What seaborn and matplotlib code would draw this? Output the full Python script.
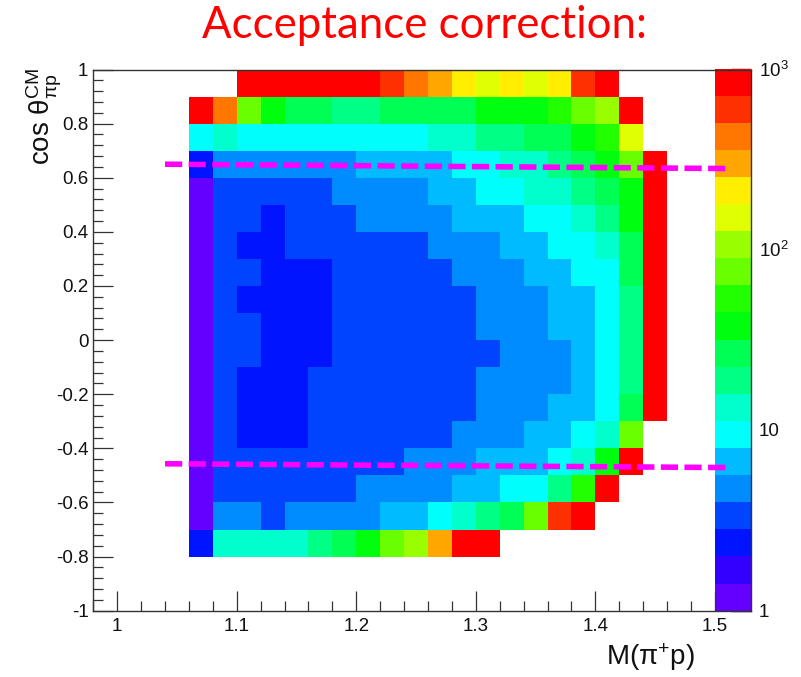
import numpy as np
import pandas as pd
import matplotlib
matplotlib.use("Agg")
import matplotlib.pyplot as plt
import seaborn as sns
from matplotlib.colors import ListedColormap
from matplotlib.ticker import FixedLocator, FuncFormatter

# ---------------- data ----------------
N = None
# lower edges of the M(pi+ p) bins (GeV)
m_bin_low = [1.06, 1.08, 1.10, 1.12, 1.14, 1.16, 1.18, 1.20, 1.22, 1.24,
             1.26, 1.28, 1.30, 1.32, 1.34, 1.36, 1.38, 1.40, 1.42, 1.44]
# lower edges of the cos(theta) bins, top row first
cos_bin_low = [0.9, 0.8, 0.7, 0.6, 0.5, 0.4, 0.3, 0.2, 0.1, 0.0,
               -0.1, -0.2, -0.3, -0.4, -0.5, -0.6, -0.7, -0.8]

acc_cos_p09 = [N, N, 850, 850, 850, 850, 850, 850, 600, 420, 300, 210, 150, 210, 150, 210, 600, 850, N, N]
acc_cos_p08 = [850, 420, 75, 38, 27, 27, 19, 19, 27, 27, 27, 27, 38, 38, 38, 53, 75, 105, 850, N]
acc_cos_p07 = [9.4, 13, 9.4, 9.4, 9.4, 9.4, 9.4, 9.4, 9.4, 9.4, 13, 13, 19, 19, 27, 27, 38, 53, 150, N]
acc_cos_p06 = [2.4, 4.7, 4.7, 4.7, 4.7, 4.7, 4.7, 6.7, 6.7, 6.7, 6.7, 9.4, 9.4, 13, 13, 19, 27, 38, 75, 850]
acc_cos_p05 = [1.2, 3.4, 3.4, 3.4, 3.4, 3.4, 4.7, 4.7, 4.7, 4.7, 6.7, 6.7, 9.4, 9.4, 13, 13, 19, 27, 38, 850]
acc_cos_p04 = [1.2, 3.4, 3.4, 2.4, 3.4, 3.4, 3.4, 4.7, 4.7, 4.7, 4.7, 6.7, 6.7, 6.7, 9.4, 9.4, 13, 19, 38, 850]
acc_cos_p03 = [1.2, 3.4, 2.4, 2.4, 3.4, 3.4, 3.4, 3.4, 3.4, 3.4, 4.7, 4.7, 4.7, 6.7, 6.7, 9.4, 9.4, 13, 27, 850]
acc_cos_p02 = [1.2, 3.4, 3.4, 2.4, 2.4, 2.4, 3.4, 3.4, 3.4, 3.4, 3.4, 4.7, 4.7, 4.7, 6.7, 6.7, 9.4, 9.4, 27, 850]
acc_cos_p01 = [1.2, 3.4, 2.4, 2.4, 2.4, 2.4, 3.4, 3.4, 3.4, 3.4, 3.4, 3.4, 4.7, 4.7, 4.7, 6.7, 6.7, 9.4, 19, 850]
acc_cos_p00 = [1.2, 3.4, 3.4, 2.4, 2.4, 2.4, 3.4, 3.4, 3.4, 3.4, 3.4, 3.4, 4.7, 4.7, 4.7, 6.7, 6.7, 9.4, 19, 850]
acc_cos_m01 = [1.2, 3.4, 3.4, 2.4, 2.4, 2.4, 3.4, 3.4, 3.4, 3.4, 3.4, 3.4, 3.4, 4.7, 4.7, 4.7, 6.7, 9.4, 19, 850]
acc_cos_m02 = [1.2, 3.4, 2.4, 2.4, 2.4, 3.4, 3.4, 3.4, 3.4, 3.4, 3.4, 3.4, 4.7, 4.7, 4.7, 4.7, 6.7, 9.4, 19, 850]
acc_cos_m03 = [1.2, 3.4, 2.4, 2.4, 2.4, 3.4, 3.4, 3.4, 3.4, 3.4, 3.4, 3.4, 4.7, 4.7, 4.7, 6.7, 6.7, 9.4, 27, 850]
acc_cos_m04 = [1.2, 3.4, 2.4, 2.4, 2.4, 3.4, 3.4, 3.4, 3.4, 3.4, 3.4, 4.7, 4.7, 4.7, 6.7, 6.7, 9.4, 13, 75, N]
acc_cos_m05 = [1.2, 3.4, 3.4, 3.4, 3.4, 3.4, 3.4, 3.4, 3.4, 4.7, 4.7, 4.7, 6.7, 6.7, 6.7, 9.4, 13, 38, 850, N]
acc_cos_m06 = [1.2, 3.4, 3.4, 3.4, 3.4, 3.4, 3.4, 4.7, 4.7, 4.7, 4.7, 6.7, 6.7, 9.4, 9.4, 19, 53, 850, N, N]
acc_cos_m07 = [1.2, 4.7, 4.7, 3.4, 4.7, 4.7, 4.7, 4.7, 6.7, 6.7, 9.4, 13, 19, 27, 75, 600, 850, N, N, N]
acc_cos_m08 = [2.4, 13, 13, 13, 13, 19, 27, 38, 75, 105, 300, 850, 850, N, N, N, N, N, N, N]

acc_rows = [acc_cos_p09, acc_cos_p08, acc_cos_p07, acc_cos_p06, acc_cos_p05, acc_cos_p04,
            acc_cos_p03, acc_cos_p02, acc_cos_p01, acc_cos_p00, acc_cos_m01, acc_cos_m02,
            acc_cos_m03, acc_cos_m04, acc_cos_m05, acc_cos_m06, acc_cos_m07, acc_cos_m08]

# dashed cut lines (magenta)
cut_m = [1.04, 1.51]
cut_upper = [0.650, 0.634]
cut_lower = [-0.457, -0.471]

colorbar_ticks = [1, 10, 100, 1000]
colorbar_labels = ["1", "10", "10$^{2}$", "10$^{3}$"]

# ROOT "pretty" palette, 20 contour levels
palette = ["#6300FF", "#3300FF", "#0014FF", "#0044FF", "#008BFF", "#00BBFF",
           "#00FFFC", "#00FFCC", "#00FF85", "#00FF55", "#00FF0E", "#22FF00",
           "#69FF00", "#99FF00", "#E0FF00", "#FFEE00", "#FFA700", "#FF7700",
           "#FF3000", "#FF0000"]

# ---------------- style ----------------
sns.set_style("ticks")
plt.rcParams["font.family"] = ["Liberation Sans", "DejaVu Sans"]
plt.rcParams["mathtext.fontset"] = "custom"
plt.rcParams["mathtext.rm"] = "Liberation Sans"
plt.rcParams["mathtext.it"] = "Liberation Sans:italic"
plt.rcParams["mathtext.bf"] = "Liberation Sans:bold"
plt.rcParams["axes.edgecolor"] = "#333333"
plt.rcParams["axes.linewidth"] = 1.0

W, H = 801, 677
fig = plt.figure(figsize=(W / 100, H / 100), dpi=100)
fig.patch.set_facecolor("white")

ax = fig.add_axes([93.3 / W, 1 - 610.7 / H, (750.7 - 93.3) / W, (610.7 - 69.5) / H])
cax = fig.add_axes([715 / W, 1 - 610.7 / H, (750.7 - 715) / W, (610.7 - 68.5) / H])

recs = []
for ylow, row in zip(cos_bin_low, acc_rows):
    for xlow, v in zip(m_bin_low, row):
        if v is None:
            continue
        recs.append((xlow + 0.01, ylow + 0.05, np.log10(v)))
df = pd.DataFrame(recs, columns=["m", "cos", "logacc"])

xedges = np.round(np.append(m_bin_low, m_bin_low[-1] + 0.02), 4)
ylows = sorted(cos_bin_low)
yedges = np.round(np.append(ylows, ylows[-1] + 0.1), 4)

cmap = ListedColormap(palette)
sns.histplot(data=df, x="m", y="cos", weights="logacc", bins=[xedges, yedges],
             cmap=cmap, vmin=0, vmax=3, cbar=True, cbar_ax=cax, ax=ax)

ax.set_xlabel("")
ax.set_ylabel("")
ax.set_xlim(0.98, 1.53)
ax.set_ylim(-1, 1)
ax.grid(False)

# ticks main axes
ax.xaxis.set_major_locator(FixedLocator(np.round(np.arange(1.0, 1.501, 0.1), 3)))
xminor = [v for v in np.round(np.arange(0.98, 1.5001, 0.02), 3)
          if abs(v * 10 - round(v * 10)) > 1e-6]
ax.xaxis.set_minor_locator(FixedLocator(xminor))
ax.yaxis.set_major_locator(FixedLocator(np.round(np.arange(-1.0, 1.001, 0.2), 3)))
ax.yaxis.set_minor_locator(FixedLocator(np.round(np.arange(-1.0, 1.001, 0.04), 3)))


def fmt(v, pos):
    v = round(v, 3)
    if abs(v) < 1e-9:
        return "0"
    return f"{v:g}"


ax.xaxis.set_major_formatter(FuncFormatter(fmt))
ax.yaxis.set_major_formatter(FuncFormatter(fmt))
ax.tick_params(which="both", direction="in", top=False, right=False,
               color="#333333", width=0.9, labelsize=13.5, labelcolor="#111111")
ax.tick_params(which="major", length=14.4)
ax.tick_params(which="minor", length=7.2)
ax.tick_params(axis="x", which="major", pad=5)
ax.tick_params(axis="y", which="major", pad=3.5)
for s in ax.spines.values():
    s.set_visible(True)
    s.set_color("#333333")
    s.set_linewidth(1.0)

# colorbar
cb = ax.collections[0].colorbar
cb.outline.set_visible(False)
cb.set_ticks(np.log10(colorbar_ticks), labels=colorbar_labels)
cminor = [np.log10(k * 10 ** e) for e in range(3) for k in range(2, 10)]
cax.yaxis.set_minor_locator(FixedLocator(cminor))
cax.yaxis.set_ticks_position("right")
cax.tick_params(which="both", direction="in", right=True, left=False,
                labelright=True, labelleft=False, color="#111111", width=1.0,
                labelsize=13.5, labelcolor="#111111")
cax.tick_params(which="major", length=14.4, pad=6)
cax.tick_params(which="minor", length=7.2)

# draw main axes (with cut lines) above the palette
cax.set_zorder(1)
ax.set_zorder(2)
ax.patch.set_visible(False)

for ycut in (cut_upper, cut_lower):
    ax.plot(cut_m, ycut, color="#FF00FF", lw=4.0, dashes=(3.1, 1.15),
            solid_capstyle="butt", dash_capstyle="butt", clip_on=False, zorder=6)

# texts
fig.text(425 / W, 1 - 38 / H, "Acceptance correction:", color="#FF0000",
         fontsize=31.5, family=["Lato", "DejaVu Sans"], ha="center", va="baseline")
fig.text(44 / W, 1 - 68 / H,
         r"$\mathrm{cos}\ \mathrm{\theta}^{\mathrm{CM}}_{\mathrm{\pi p}}$",
         rotation=90, fontsize=20, ha="center", va="top", color="#111111")
fig.text(695 / W, 1 - 657 / H, r"$\mathrm{M(\pi^{+}p)}$",
         fontsize=20, ha="right", va="center", color="#111111")

fig.savefig("out.png", dpi=100, facecolor="white")
